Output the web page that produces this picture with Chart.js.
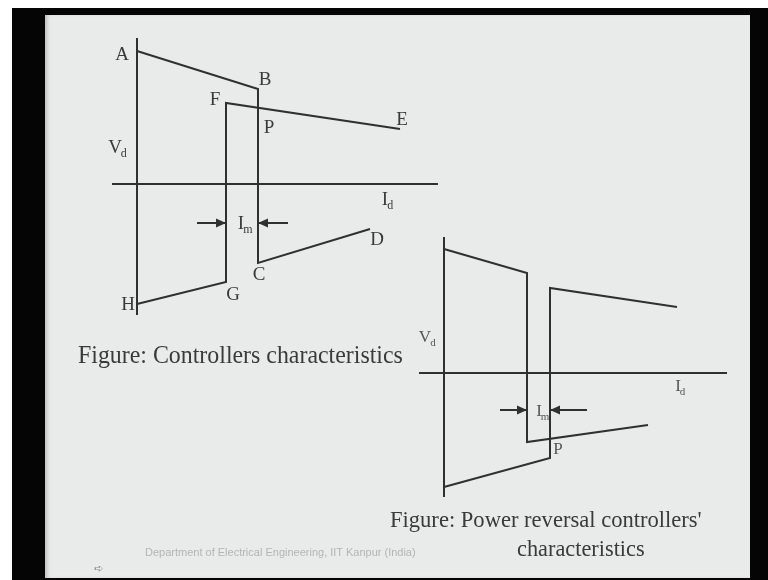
<!DOCTYPE html>
<html>
<head>
<meta charset="utf-8">
<script src="https://cdn.jsdelivr.net/npm/chart.js@4.4.1/dist/chart.umd.min.js"></script>
<style>
  body { margin: 0; width: 768px; height: 580px; background: #fff; position: relative; overflow: hidden; }
  .frame { position: absolute; left: 12px; top: 8px; width: 756px; height: 572px; background: #050505; }
  .slide { position: absolute; left: 45px; top: 15px; width: 705px; height: 563px; background: #e9ebea;
           box-shadow: inset 4px 0 4px -2px #b9bbba; }
  canvas { position: absolute; }
  #fig1 { left: 100px; top: 30px; }
  #fig2 { left: 400px; top: 225px; }
  .cap { position: absolute; font-family: "Liberation Serif", serif; line-height: 25px; color: #3a3a3a;
         white-space: nowrap; transform-origin: 0 0; }
  .foot { position: absolute; left: 145px; top: 546px; font-family: "Liberation Sans", sans-serif; font-size: 11px; color: #b3b5b4; white-space: nowrap; }
  .icon { position: absolute; left: 94px; top: 562px; font-family: "DejaVu Sans", sans-serif; font-size: 11px; color: #8d8f8e; }
</style>
</head>
<body>
<div class="frame"></div>
<div class="slide"></div>
<canvas id="fig1" width="360" height="300"></canvas>
<canvas id="fig2" width="340" height="290"></canvas>
<div class="cap" style="left:78px; top:342px; font-size:25px; transform:scaleX(0.955);">Figure: Controllers characteristics</div>
<div class="cap" style="left:390px; top:507px; font-size:24px; transform:scaleX(0.94);">Figure: Power reversal controllers'</div>
<div class="cap" style="left:517px; top:536px; font-size:24px; transform:scaleX(0.93);">characteristics</div>
<div class="foot">Department of Electrical Engineering, IIT Kanpur (India)</div>
<div class="icon">➪</div>

<script>
// figure 1: controllers characteristics (Id, Vd in arbitrary units)
const fig1RectId = [0, 12.1, 12.1, 23.3];      // A B C D
const fig1RectVd = [13.3, 9.5, -7.9, -4.5];
const fig1InvId = [0, 8.9, 8.9, 26.3];         // H G F E
const fig1InvVd = [-12.0, -9.8, 8.1, 5.5];
const fig1AxisId = [-2.5, 30.1];
const fig1AxisVd = [14.6, -13.1];
const fig1ArrowVd = -3.9;
const fig1ArrowLeftId = [6.0, 8.9];
const fig1ArrowRightId = [15.1, 12.1];
const fig1LabelText = ['A', 'B', 'F', 'P', 'E', 'V', 'I', 'I', 'D', 'C', 'G', 'H'];
const fig1LabelSub = ['', '', '', '', '', 'd', 'd', 'm', '', '', '', ''];
const fig1LabelId = [-1.5, 12.8, 7.8, 13.2, 26.5, -2.2, 24.8, 10.4, 24.0, 12.2, 9.6, -0.9];
const fig1LabelVd = [12.9, 10.4, 8.4, 5.6, 6.4, 3.6, -1.6, -4.0, -5.6, -9.1, -11.1, -12.1];

// figure 2: power reversal controllers' characteristics
const fig2CurveAId = [0, 8.3, 8.3, 20.4];
const fig2CurveAVd = [12.4, 10.0, -6.9, -5.2];
const fig2CurveBId = [0, 10.6, 10.6, 23.3];
const fig2CurveBVd = [-11.4, -8.5, 8.5, 6.6];
const fig2AxisId = [-2.5, 28.3];
const fig2AxisVd = [13.6, -12.4];
const fig2ArrowVd = -3.7;
const fig2ArrowLeftId = [5.6, 8.3];
const fig2ArrowRightId = [14.3, 10.6];
const fig2LabelText = ['V', 'I', 'I', 'P'];
const fig2LabelSub = ['d', 'd', 'm', ''];
const fig2LabelId = [-1.9, 23.4, 9.5, 11.4];
const fig2LabelVd = [3.5, -1.4, -3.9, -7.7];

const lineColor = '#2f302f';

function pts(xs, ys) {
    return xs.map((x, i) => ({ x: x, y: ys[i] }));
}

function lineSet(data, extra) {
    return Object.assign({
        data: data,
        showLine: true,
        borderColor: lineColor,
        borderWidth: 2,
        pointRadius: 0,
        tension: 0
    }, extra || {});
}

// draws arrow heads and the text labels
const drawExtras = {
    id: 'drawExtras',
    afterDatasetsDraw(chart, args, opts) {
        const ctx = chart.ctx;
        const xs = chart.scales.x, ys = chart.scales.y;
        ctx.save();
        chart.data.datasets.forEach(ds => {
            if (!ds.arrowHead) return;
            const n = ds.data.length;
            const p1 = ds.data[n - 2], p2 = ds.data[n - 1];
            const x1 = xs.getPixelForValue(p1.x), y1 = ys.getPixelForValue(p1.y);
            const x2 = xs.getPixelForValue(p2.x), y2 = ys.getPixelForValue(p2.y);
            const ang = Math.atan2(y2 - y1, x2 - x1);
            ctx.fillStyle = lineColor;
            ctx.beginPath();
            ctx.moveTo(x2, y2);
            ctx.lineTo(x2 - 10 * Math.cos(ang) + 4.5 * Math.sin(ang), y2 - 10 * Math.sin(ang) - 4.5 * Math.cos(ang));
            ctx.lineTo(x2 - 10 * Math.cos(ang) - 4.5 * Math.sin(ang), y2 - 10 * Math.sin(ang) + 4.5 * Math.cos(ang));
            ctx.closePath();
            ctx.fill();
        });
        ctx.fillStyle = opts.color;
        ctx.textBaseline = 'middle';
        opts.text.forEach((t, i) => {
            const px = xs.getPixelForValue(opts.ids[i]);
            const py = ys.getPixelForValue(opts.vds[i]);
            ctx.font = opts.size + 'px "Liberation Serif", serif';
            ctx.textAlign = 'center';
            const w = ctx.measureText(t).width;
            ctx.fillText(t, px, py);
            if (opts.subs[i]) {
                ctx.font = Math.round(opts.size * 0.62) + 'px "Liberation Serif", serif';
                ctx.textAlign = 'left';
                ctx.fillText(opts.subs[i], px + w / 2 - 1, py + opts.size * 0.3);
            }
        });
        ctx.restore();
    }
};

function makeChart(id, datasets, range, labels) {
    const ctx = document.getElementById(id).getContext('2d');
    return new Chart(ctx, {
        type: 'scatter',
        data: { datasets: datasets },
        options: {
            responsive: false,
            animation: false,
            layout: { padding: 0 },
            scales: {
                x: { type: 'linear', display: false, min: range[0], max: range[1] },
                y: { type: 'linear', display: false, min: range[2], max: range[3] }
            },
            plugins: {
                legend: { display: false },
                tooltip: { enabled: false },
                drawExtras: labels
            }
        },
        plugins: [drawExtras]
    });
}

makeChart('fig1', [
    lineSet(pts([0, 0], fig1AxisVd)),
    lineSet(pts(fig1AxisId, [0, 0])),
    lineSet(pts(fig1RectId, fig1RectVd)),
    lineSet(pts(fig1InvId, fig1InvVd)),
    lineSet(pts(fig1ArrowLeftId, [fig1ArrowVd, fig1ArrowVd]), { arrowHead: true }),
    lineSet(pts(fig1ArrowRightId, [fig1ArrowVd, fig1ArrowVd]), { arrowHead: true })
], [-3.7, 32.3, -14.6, 15.4], {
    text: fig1LabelText, subs: fig1LabelSub, ids: fig1LabelId, vds: fig1LabelVd,
    size: 19, color: '#3a3a3a'
});

makeChart('fig2', [
    lineSet(pts([0, 0], fig2AxisVd)),
    lineSet(pts(fig2AxisId, [0, 0])),
    lineSet(pts(fig2CurveAId, fig2CurveAVd)),
    lineSet(pts(fig2CurveBId, fig2CurveBVd)),
    lineSet(pts(fig2ArrowLeftId, [fig2ArrowVd, fig2ArrowVd]), { arrowHead: true }),
    lineSet(pts(fig2ArrowRightId, [fig2ArrowVd, fig2ArrowVd]), { arrowHead: true })
], [-4.4, 29.6, -14.2, 14.8], {
    text: fig2LabelText, subs: fig2LabelSub, ids: fig2LabelId, vds: fig2LabelVd,
    size: 17, color: '#555756'
});
</script>
</body>
</html>
